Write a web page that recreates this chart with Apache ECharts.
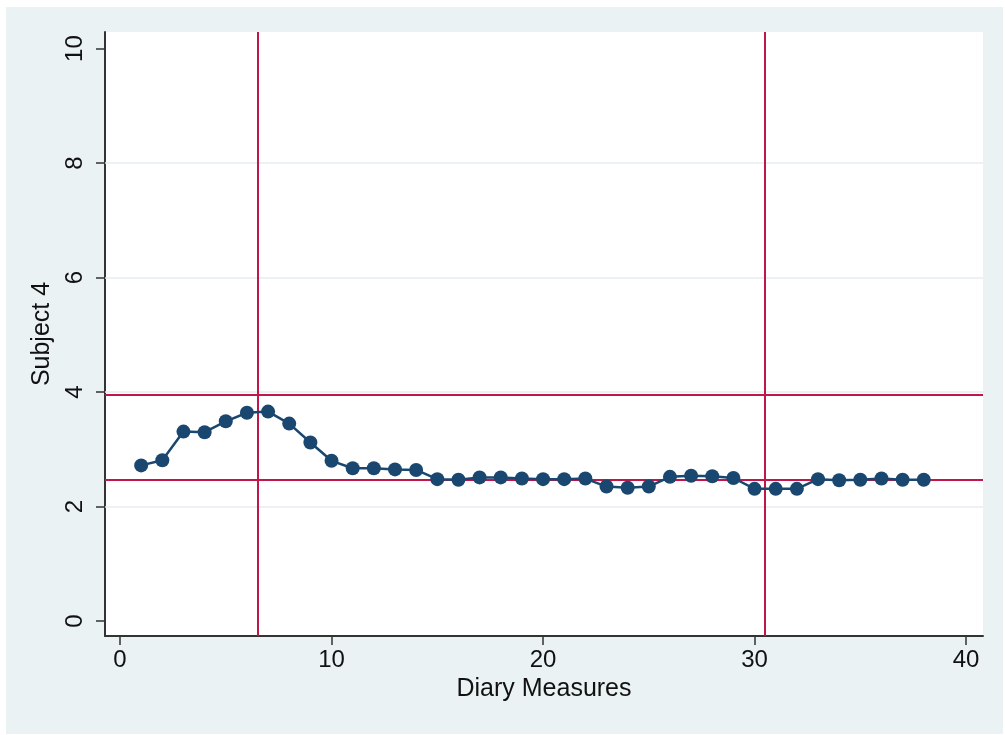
<!DOCTYPE html>
<html>
<head>
<meta charset="utf-8">
<script src="https://cdn.jsdelivr.net/npm/echarts@6/dist/echarts.min.js"></script>
<style>
  html, body { margin: 0; padding: 0; background: #ffffff; }
  #wrap { position: absolute; left: 6px; top: 7px; width: 997px; height: 727px; background: #EAF2F3; }
  #chart { width: 997px; height: 727px; }
</style>
</head>
<body>
<div id="wrap"><div id="chart"></div></div>
<script>
const measures = [1,2,3,4,5,6,7,8,9,10,11,12,13,14,15,16,17,18,19,20,21,22,23,24,25,26,27,28,29,30,31,32,33,34,35,36,37,38];
const subject4 = [2.72,2.81,3.31,3.30,3.49,3.64,3.66,3.45,3.12,2.80,2.67,2.67,2.65,2.64,2.48,2.47,2.51,2.51,2.49,2.48,2.48,2.49,2.35,2.33,2.35,2.52,2.54,2.53,2.50,2.31,2.31,2.31,2.48,2.46,2.47,2.49,2.47,2.47];
const xTicks = [0,10,20,30,40];
const yTicks = [0,2,4,6,8,10];
const yGrid = [2,4,6,8];
const phaseBreaks = [6.5,30.5];
const refLevels = [3.95,2.47];

const chart = echarts.init(document.getElementById('chart'), null, {renderer: 'canvas'});
const font = "'Liberation Sans', Arial, Helvetica, sans-serif";

chart.setOption({
  backgroundColor: 'transparent',
  animation: false,
  grid: { left: 99, top: 25, right: 20, bottom: 98, show: true, backgroundColor: '#ffffff', borderWidth: 0 },
  xAxis: {
    type: 'value', min: -0.71, max: 40.8,
    name: 'Diary Measures', nameLocation: 'middle', nameGap: 41,
    nameTextStyle: { fontFamily: font, fontSize: 25, color: '#111' },
    axisLine: { show: true, onZero: false, lineStyle: { color: '#333', width: 2 } },
    axisTick: { show: true, customValues: xTicks, length: 9, lineStyle: { color: '#333', width: 1.5 } },
    axisLabel: { customValues: xTicks, fontFamily: font, fontSize: 24, color: '#111', margin: 12 },
    splitLine: { show: false }
  },
  yAxis: {
    type: 'value', min: -0.26, max: 10.29,
    name: 'Subject 4', nameLocation: 'middle', nameGap: 46, nameRotate: 90,
    nameTextStyle: { fontFamily: font, fontSize: 25, color: '#111' },
    axisLine: { show: true, onZero: false, lineStyle: { color: '#333', width: 2 } },
    axisTick: { show: true, customValues: yTicks, length: 9, lineStyle: { color: '#333', width: 1.5 } },
    axisLabel: { customValues: yTicks, rotate: 90, fontFamily: font, fontSize: 24, color: '#111', margin: 18 },
    splitLine: { show: false }
  },
  series: [
    {
      type: 'line', data: [], silent: true, z: 1,
      markLine: {
        silent: true, symbol: 'none', label: { show: false },
        lineStyle: { color: '#E6EDEF', width: 1.5, type: 'solid' },
        data: yGrid.map(v => ({ yAxis: v }))
      }
    },
    {
      type: 'line', data: [], silent: true, z: 2,
      markLine: {
        silent: true, symbol: 'none', label: { show: false },
        lineStyle: { color: '#C0164A', width: 2, type: 'solid' },
        data: phaseBreaks.map(v => ({ xAxis: v })).concat(refLevels.map(v => ({ yAxis: v })))
      }
    },
    {
      type: 'line', z: 5,
      data: measures.map((m, i) => [m, subject4[i]]),
      symbol: 'circle', symbolSize: 14,
      lineStyle: { color: '#1A476F', width: 2.5 },
      itemStyle: { color: '#1A476F' }
    }
  ]
});
</script>
</body>
</html>
